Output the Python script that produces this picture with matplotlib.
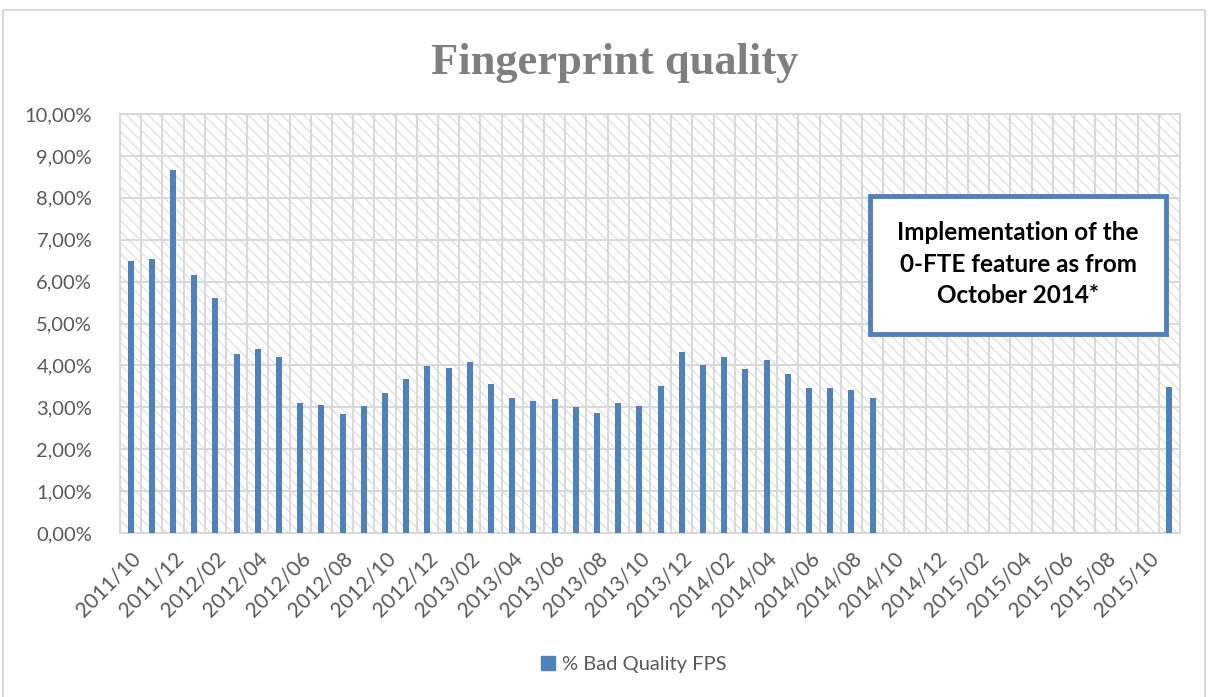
import matplotlib
matplotlib.use("Agg")
import matplotlib.pyplot as plt
from matplotlib.patches import Rectangle
from matplotlib.lines import Line2D
from matplotlib.ticker import FixedLocator
import numpy as np
import pandas as pd

plt.rcParams['font.family'] = ['Lato', 'DejaVu Sans']

# monthly categories 2011/10 .. 2015/11
months = list(pd.period_range('2011-10', '2015-11', freq='M').strftime('%Y/%m'))

# % bad quality fingerprints (None = no data)
bad_quality = [6.50, 6.54, 8.67, 6.16, 5.62, 4.27, 4.38, 4.20, 3.11, 3.06,
               2.85, 3.02, 3.35, 3.68, 3.98, 3.94, 4.09, 3.56, 3.23, 3.15,
               3.20, 3.00, 2.87, 3.10, 3.04, 3.50, 4.32, 4.02, 4.19, 3.91,
               4.14, 3.79, 3.47, 3.45, 3.42, 3.22,
               None, None, None, None, None, None, None, None, None, None,
               None, None, None,
               3.48]

series_name = "% Bad Quality FPS"
note = "Implementation of the\n0-FTE feature as from\nOctober 2014*"

blue = '#4f81bd'
grid = '#d9d9d9'
txt = '#595959'

fig = plt.figure(figsize=(12.08, 6.97), dpi=100)
ax = fig.add_axes([0.0993, 0.2353, 0.8775, 0.6011])

# outer chart border
fig.patches.append(Rectangle((0.0025, -0.01), 0.9950, 0.9960, transform=fig.transFigure,
                             fill=False, edgecolor=grid, lw=1.5))

# hatched plot area
ax.set_facecolor('white')
ax.add_patch(Rectangle((0, 0), 1, 1, transform=ax.transAxes, facecolor='white',
                       edgecolor='#e2e2e2', hatch='\\\\\\', lw=0, zorder=0))

x = np.arange(len(months))
vals = np.array([np.nan if v is None else v for v in bad_quality])
ax.bar(x, vals, width=0.28, color=blue, zorder=3, label=series_name)

ax.set_xlim(-0.5, len(months) - 0.5)
ax.set_ylim(0, 10)
ax.set_yticks(np.arange(0, 11, 1))
ax.set_yticklabels([('%.2f%%' % v).replace('.', ',') for v in np.arange(0, 11, 1)])

ax.set_xticks(x[::2])
ax.set_xticklabels(months[::2], rotation=45, ha='right', rotation_mode='anchor')
ax.xaxis.set_minor_locator(FixedLocator(np.arange(-0.5, len(months), 1)))

ax.grid(axis='y', which='major', color=grid, lw=1.5, zorder=1)
ax.grid(axis='x', which='minor', color=grid, lw=1.5, zorder=1)
ax.set_axisbelow(True)
ax.tick_params(axis='both', which='both', length=0, labelsize=14.5, colors=txt)
ax.tick_params(axis='x', labelsize=15, pad=11)
ax.tick_params(axis='y', pad=20)
for s in ax.spines.values():
    s.set_color(grid)
    s.set_linewidth(1.5)

fig.text(0.509, 0.91, "Fingerprint quality", ha='center', va='center',
         family='Liberation Serif', fontweight='bold', fontsize=32, color='#7f7f7f')

# annotation box
ax.add_patch(Rectangle((34.9, 4.75), 13.95, 3.3, facecolor='white', edgecolor=blue,
                       lw=3.5, zorder=5))
ax.text(41.87, 6.42, note, ha='center', va='center', fontsize=17.5, fontweight='bold',
        color='black', linespacing=1.45, zorder=6)

handle = Line2D([], [], linestyle='none', marker='s', markersize=10,
                markerfacecolor=blue, markeredgecolor=blue)
fig.legend([handle], [series_name], loc='center', bbox_to_anchor=(0.524, 0.046),
           frameon=False, fontsize=14.5, handlelength=0.8, handletextpad=0.3,
           labelcolor=txt)

fig.savefig('out.png', dpi=100)
